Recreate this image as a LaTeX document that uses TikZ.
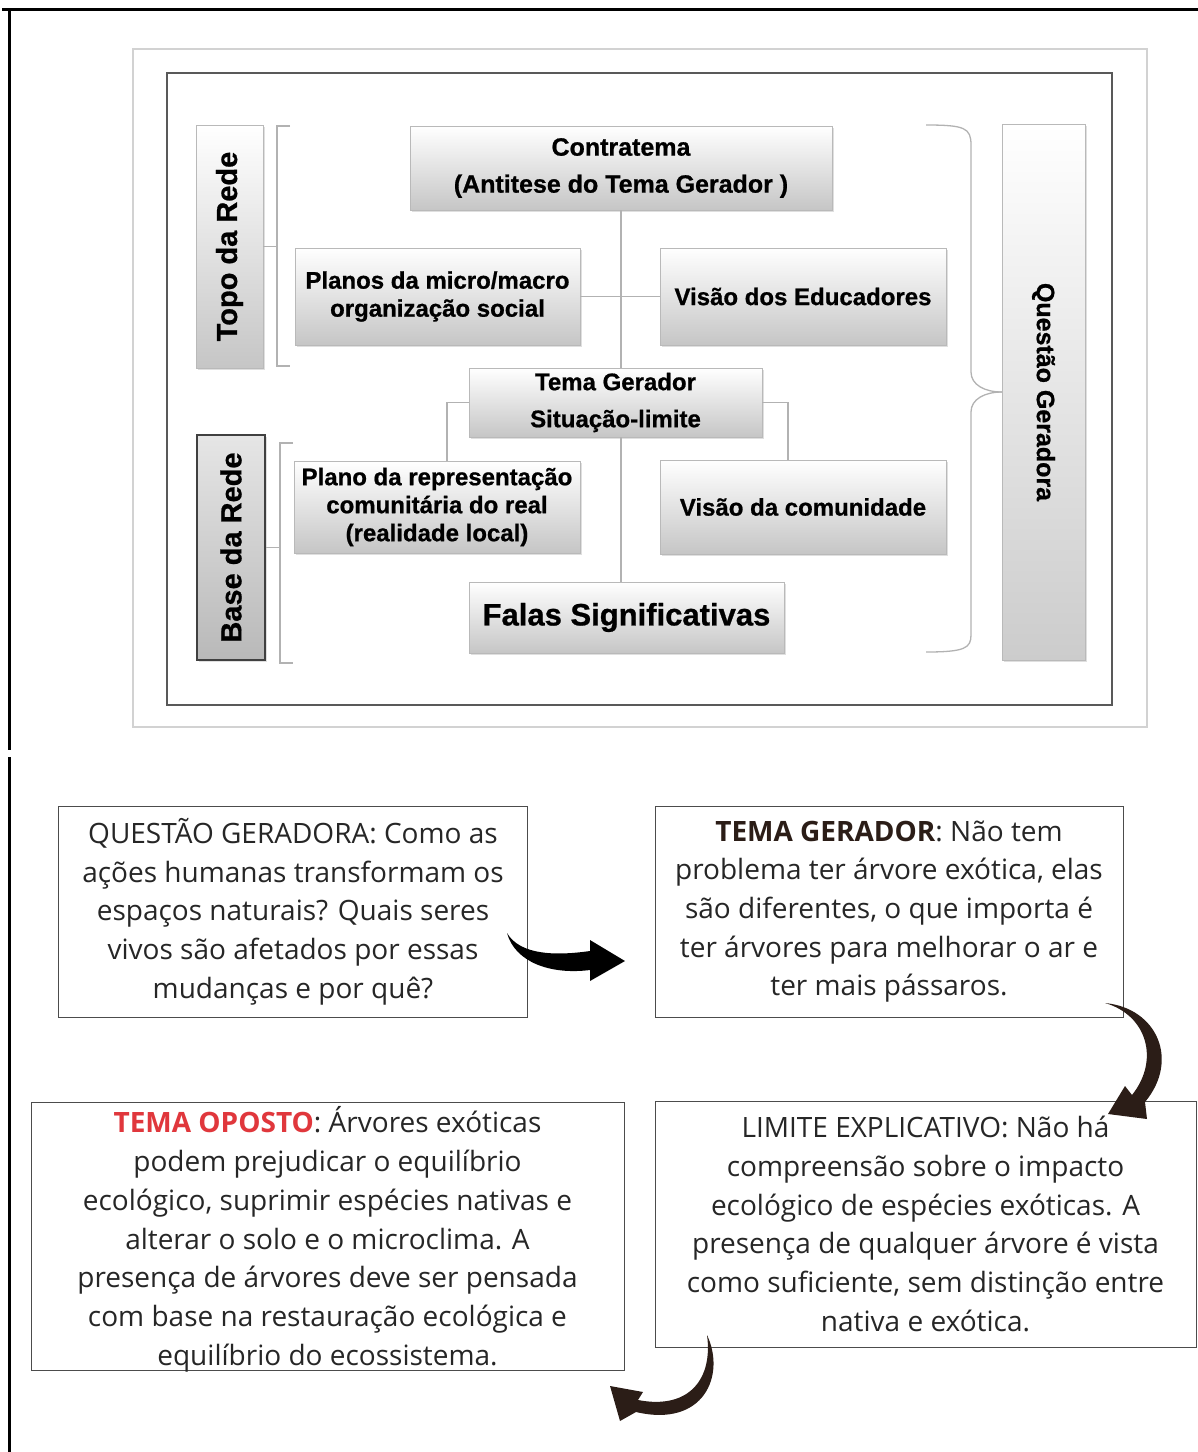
\documentclass[tikz,border=0pt]{standalone}
\usepackage{fontspec}
\newfontfamily\arialb[BoldFeatures={FakeBold=0.8}]{Liberation Sans}
\newfontfamily\opensans{Open Sans}
\usetikzlibrary{shadows}
\definecolor{arrowbrown}{HTML}{2B1D17}
\definecolor{opostored}{HTML}{E0373C}
\tikzset{
  netbox/.style={draw=gray!55, top color=white, bottom color=gray!45, align=center,
    font=\arialb\bfseries\fontsize{24}{28}\selectfont, inner sep=2pt,
    drop shadow={opacity=0.25, shadow xshift=2pt, shadow yshift=-2pt}},
  sidebox/.style={netbox, font=\arialb\bfseries\fontsize{29}{32}\selectfont},
  netline/.style={gray!60, line width=1.3pt},
  textbox/.style={draw=black!70, line width=1pt, fill=white, align=center, text=black!85,
    font=\opensans\fontsize{28}{38.7}\selectfont, inner ysep=2pt},
}
\begin{document}
\begin{tikzpicture}[x=1pt,y=-1pt]
\useasboundingbox (0,0) rectangle (1198,1452);
\draw[line width=3pt] (2,9) -- (1198,9);
\draw[line width=3pt] (9,9) -- (9,750);
\draw[line width=3pt] (9,757) -- (9,1452);
\draw[gray!35, line width=1.5pt] (133,49) rectangle (1147,727);
\draw[black!65, line width=2.5pt] (167,73) rectangle (1112,705);

\node[sidebox, rotate=90, minimum width=243, minimum height=67] (topo) at (229.5,246.5) {Topo da Rede};
\node[sidebox, rotate=90, minimum width=225, minimum height=68, draw=black!75, line width=1.5pt,
  top color=gray!20, bottom color=gray!55] (base) at (231,547.5) {Base da Rede};
\node[sidebox, rotate=-90, minimum width=536, minimum height=83, top color=white, bottom color=gray!40,
  font=\arialb\bfseries\fontsize{25}{28}\selectfont] (questao) at (1043.5,392) {Questão Geradora};
\node[netbox, minimum width=422, minimum height=84, font=\arialb\bfseries\fontsize{25}{37}\selectfont] (contra) at (621,168) {Contratema\\(Antitese do Tema Gerador )};
\node[netbox, minimum width=285, minimum height=97] (planos) at (437.5,296.5) {Planos da micro/macro\\organização social};
\node[netbox, minimum width=286, minimum height=97] (educ) at (803,296.5) {Visão dos Educadores};
\node[netbox, minimum width=293, minimum height=69, font=\arialb\bfseries\fontsize{24}{37}\selectfont] (tema) at (615.5,402.5) {Tema Gerador\\Situação-limite};
\node[netbox, minimum width=286, minimum height=92] (plano) at (437,507) {Plano da representação\\comunitária do real\\(realidade local)};
\node[netbox, minimum width=286, minimum height=94] (comun) at (803,507) {Visão da comunidade};
\node[netbox, minimum width=315, minimum height=71, font=\arialb\bfseries\fontsize{31}{34}\selectfont] (falas) at (626.5,617.5) {Falas Significativas};

\draw[netline] (contra.south) -- (contra.south |- tema.north);
\draw[netline] (contra.south |- tema.south) -- (contra.south |- falas.north);
\draw[netline] (planos.east) -- (educ.west);
\draw[netline] (tema.west) -| ([xshift=10pt]plano.north);
\draw[netline] (tema.east) -| ([xshift=-15pt]comun.north);
\draw[netline] (290,126) -- (277,126) -- (277,366) -- (290,366);
\draw[netline] (topo.south) -- ++(14,0);
\draw[netline] (293,443) -- (280,443) -- (280,663) -- (293,663);
\draw[netline] (base.south) -- ++(15,0);
\draw[netline] (926,125) .. controls (965,125) and (971,128) .. (971,145) -- (971,372)
  .. controls (971,385) and (985,392) .. (questao.south);
\draw[netline] (questao.south) .. controls (985,392) and (971,399) .. (971,412) -- (971,635)
  .. controls (971,648) and (965,652) .. (926,652);

\node[textbox, minimum width=469, minimum height=211] (qg) at (293,911.5)
  {QUESTÃO GERADORA: Como as\\ações humanas transformam os\\espaços naturais? Quais seres\\vivos são afetados por essas\\mudanças e por quê?};
\node[textbox, minimum width=468, minimum height=211] (tg) at (889,911.5)
  {\textcolor{arrowbrown}{\bfseries TEMA GERADOR}: Não tem\\problema ter árvore exótica, elas\\são diferentes, o que importa é\\ter árvores para melhorar o ar e\\ter mais pássaros.};
\node[textbox, minimum width=541, minimum height=246] (le) at (925.5,1224)
  {LIMITE EXPLICATIVO: Não há\\compreensão sobre o impacto\\ecológico de espécies exóticas. A\\presença de qualquer árvore é vista\\como suficiente, sem distinção entre\\nativa e exótica.};
\node[textbox, minimum width=593, minimum height=268, text depth=0pt] (to) at (327.5,1236)
  {\textcolor{opostored}{\bfseries TEMA OPOSTO}: Árvores exóticas\\podem prejudicar o equilíbrio\\ecológico, suprimir espécies nativas e\\alterar o solo e o microclima. A\\presença de árvores deve ser pensada\\com base na restauração ecológica e\\equilíbrio do ecossistema.};

\fill[black] (507,933) .. controls (520,955) and (555,956) .. (590,951) -- (590,940) -- (625,961)
  -- (590,981) -- (590,970) .. controls (550,975) and (515,962) .. (507,933) -- cycle;
\fill[arrowbrown] (1105,1003) .. controls (1157,1008) and (1180,1060) .. (1145,1102) -- (1147,1119)
  -- (1108,1114) -- (1125,1086) -- (1132,1095) .. controls (1160,1060) and (1147,1015) .. (1105,1003) -- cycle;
\fill[arrowbrown] (707,1335) .. controls (726,1375) and (704,1428) .. (636,1412) -- (620,1421)
  -- (610,1386) -- (643,1392) -- (638,1400) .. controls (690,1410) and (713,1378) .. (707,1335) -- cycle;
\end{tikzpicture}
\end{document}
